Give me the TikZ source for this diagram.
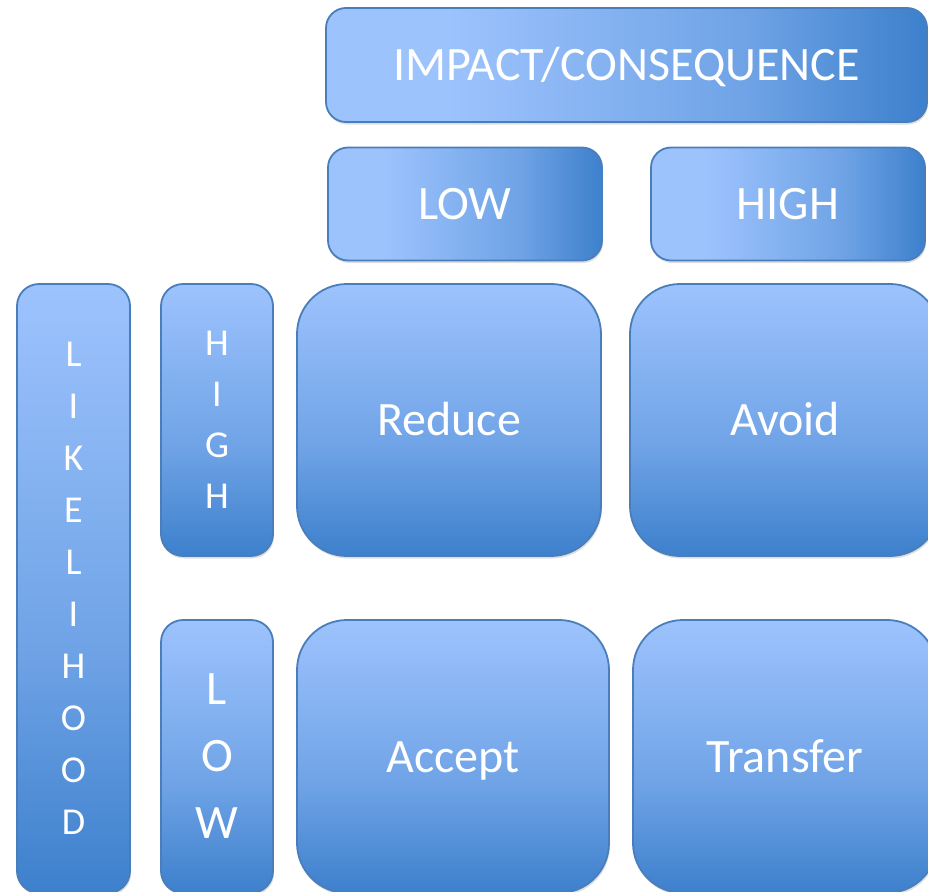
\documentclass[tikz,border=0pt]{standalone}
\usepackage{fontspec}
\setmainfont{Carlito}
\usetikzlibrary{shadows}
\definecolor{boxlight}{HTML}{9DC3FD}
\definecolor{boxmid}{HTML}{6FA3E6}
\definecolor{boxdark}{HTML}{3D80CC}
\definecolor{boxline}{HTML}{4A7EBA}
\pgfdeclarehorizontalshading{boxhoriz}{100bp}{color(0bp)=(boxlight); color(25bp)=(boxlight); color(35bp)=(boxlight); color(60bp)=(boxmid); color(75bp)=(boxdark); color(100bp)=(boxdark)}
\pgfdeclareverticalshading{boxvert}{100bp}{color(0bp)=(boxdark); color(25bp)=(boxdark); color(45bp)=(boxmid); color(75bp)=(boxlight); color(100bp)=(boxlight)}

\begin{document}
\begin{tikzpicture}[x=1pt,y=-1pt,
    card/.style={draw=boxline, line width=1.8pt, text=white, inner sep=0pt,
      drop shadow={shadow xshift=1pt, shadow yshift=-2.5pt, opacity=0.25}},
    hcard/.style={card, shading=boxhoriz, rounded corners=20pt, font=\fontsize{48}{58}\selectfont,
      text height=31pt, text depth=0pt},
    vcard/.style={card, shading=boxvert, rounded corners=22pt, align=center},
    bigcard/.style={card, shading=boxvert, rounded corners=50pt, font=\fontsize{48}{58}\selectfont,
      text height=31pt, text depth=0pt}]
    \useasboundingbox (0,0) rectangle (928,891);
    \clip (0,0) rectangle (928,891);

    % Impact header
    \node[hcard, minimum width=601pt, minimum height=114pt] (impact) at (626.5,65) {IMPACT/CONSEQUENCE};
    \node[hcard, minimum width=274pt, minimum height=113pt] (implow) at (465,204) {LOW};
    \node[hcard, minimum width=274pt, minimum height=113pt] (imphigh) at (788,204) {HIGH};

    % Likelihood side
    \node[vcard, minimum width=113pt, minimum height=609pt, font=\fontsize{38}{52}\selectfont] (likeli) at (73.5,588.5) {L\\I\\K\\E\\L\\I\\H\\O\\O\\D};
    \node[vcard, minimum width=112pt, minimum height=272pt, font=\fontsize{38}{51}\selectfont] (likhigh) at (217,420) {H\\I\\G\\H};
    \node[vcard, minimum width=112pt, minimum height=273pt, font=\fontsize{48}{67}\selectfont] (liklow) at (217,756.5) {L\\O\\W};

    % Responses
    \node[bigcard, minimum width=304pt, minimum height=272pt] (reduce) at (449,420) {Reduce};
    \node[bigcard, minimum width=310pt, minimum height=272pt] (avoid) at (785,420) {Avoid};
    \node[bigcard, minimum width=312pt, minimum height=273pt] (accept) at (453,756.5) {Accept};
    \node[bigcard, minimum width=304pt, minimum height=273pt] (transfer) at (785,756.5) {Transfer};
\end{tikzpicture}
\end{document}
